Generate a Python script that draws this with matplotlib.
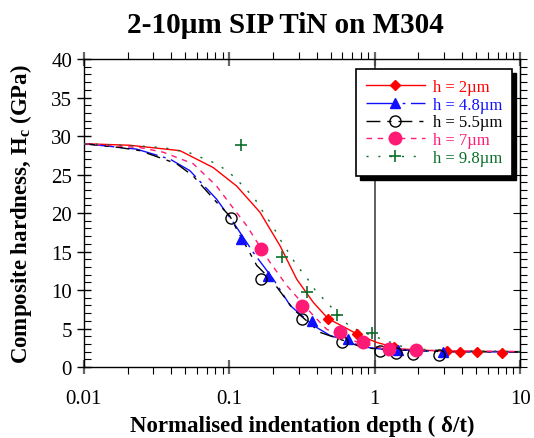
import matplotlib
matplotlib.use('Agg')
import matplotlib.pyplot as plt
from matplotlib.lines import Line2D
from matplotlib.patches import Rectangle
from matplotlib.ticker import MultipleLocator, LogLocator, NullFormatter, FixedLocator

plt.rcParams['font.family'] = ['Liberation Serif', 'DejaVu Serif']
plt.rcParams['mathtext.fontset'] = 'custom'
plt.rcParams['mathtext.rm'] = 'Liberation Serif'
plt.rcParams['mathtext.bf'] = 'Liberation Serif:bold'

# model curves
red_cx = [0.01, 0.0207, 0.0458, 0.0776, 0.1124, 0.1626, 0.2233, 0.291, 0.378, 0.477, 0.79, 1.03, 1.5, 3.0, 10]
red_cy = [29.0, 28.8, 28.1, 25.9, 23.5, 20.1, 15.75, 11.4, 8.4, 6.3, 4.1, 3.2, 2.35, 2.05, 2.0]
blue_cx = [0.01, 0.023, 0.0391, 0.0536, 0.0818, 0.1065, 0.146, 0.201, 0.262, 0.378, 0.493, 0.643, 0.836, 1.148, 3.0, 10]
blue_cy = [29.0, 28.3, 27.0, 25.5, 21.8, 18.8, 14.9, 11.4, 8.0, 5.4, 4.1, 3.4, 2.6, 2.3, 2.0, 1.95]
black_cx = [0.01, 0.0177, 0.0243, 0.0435, 0.0565, 0.0818, 0.101, 0.1124, 0.1544, 0.201, 0.2758, 0.421, 0.643, 0.836, 1.148, 3.0, 10]
black_cy = [29.0, 28.5, 28.1, 26.4, 24.8, 21.4, 19.6, 17.9, 13.2, 11.0, 7.5, 4.5, 3.3, 2.5, 2.3, 2.0, 1.95]
pink_cx = [0.01, 0.0243, 0.0351, 0.0565, 0.0818, 0.101, 0.1318, 0.1905, 0.248, 0.378, 0.468, 0.714, 1.148, 3.0, 10]
pink_cy = [29.0, 28.5, 27.9, 26.4, 23.5, 21.2, 18.35, 13.6, 10.6, 6.7, 4.9, 3.4, 2.4, 2.1, 2.0]
green_cx = [0.01, 0.0243, 0.0351, 0.0536, 0.0818, 0.101, 0.1247, 0.1503, 0.1714, 0.199, 0.2233, 0.291, 0.341, 0.389, 0.468, 0.677, 0.836, 1.576, 2.4, 10]
green_cy = [29.0, 28.7, 28.5, 27.8, 26.4, 25.2, 23.5, 21.8, 20.1, 18.3, 16.6, 13.2, 11.6, 10.0, 8.4, 5.2, 4.5, 2.6, 2.2, 2.0]

# measured points
red_x = [0.477, 0.757, 1.36, 3.13, 3.83, 5.09, 7.49]
red_y = [6.3, 4.3, 2.6, 2.04, 1.95, 1.9, 1.77]
blue_x = [0.1203, 0.1833, 0.368, 0.659, 1.456, 2.97]
blue_y = [16.6, 11.8, 6.0, 3.6, 2.2, 1.9]
black_x = [0.1022, 0.1644, 0.318, 0.594, 1.084, 1.397, 1.846, 2.79]
black_y = [19.4, 11.4, 6.3, 3.3, 2.1, 1.8, 1.65, 1.5]
pink_x = [0.1644, 0.316, 0.578, 0.836, 1.262, 1.918]
pink_y = [15.3, 7.9, 4.5, 3.3, 2.4, 2.2]
green_x = [0.1203, 0.2294, 0.3435, 0.548, 0.955]
green_y = [28.8, 14.3, 9.8, 6.7, 4.4]

labels = ['h = 2\u00b5m', 'h = 4.8\u00b5m', 'h = 5.5\u00b5m', 'h = 7\u00b5m', 'h = 9.8\u00b5m']
colors = ['#ff0000', '#1010ff', '#000000', '#ff1a75', '#0a6e2a']

series = [
    (red_cx, red_cy, red_x, red_y, dict(linestyle='-'), dict(marker='D', ms=5, mfc=colors[0])),
    (blue_cx, blue_cy, blue_x, blue_y, dict(dashes=(22, 4, 2, 4)), dict(marker='^', ms=7, mfc=colors[1])),
    (black_cx, black_cy, black_x, black_y, dict(dashes=(10, 5, 3, 5)), dict(marker='o', ms=8, mfc='none')),
    (pink_cx, pink_cy, pink_x, pink_y, dict(dashes=(4, 4)), dict(marker='o', ms=9, mfc=colors[3])),
    (green_cx, green_cy, green_x, green_y, dict(dashes=(1.5, 7)), dict(marker='+', ms=8, mew=1.2)),
]

fig = plt.figure(figsize=(5.34, 4.39), dpi=100)
ax = fig.add_axes([0.157, 0.1617, 0.817, 0.7016])

handles = []
for (cx, cy, px, py, ls, mk), col, lab in zip(series, colors, labels):
    ax.plot(cx, cy, color=col, lw=1.0, **ls, zorder=3)
    ax.plot(px, py, linestyle='none', color=col, mec=col, zorder=4, **mk)
    handles.append(Line2D([0], [0], color=col, lw=1.0, **ls, **mk))

ax.axvline(1, color='#444444', lw=1.2, zorder=2)

ax.set_xscale('log')
ax.set_xlim(0.01, 10)
ax.set_ylim(0, 40)
ax.yaxis.set_major_locator(MultipleLocator(5))
ax.yaxis.set_minor_locator(MultipleLocator(1))
ax.xaxis.set_major_locator(FixedLocator([0.01, 0.1, 1, 10]))
ax.xaxis.set_minor_locator(LogLocator(base=10, subs=range(2, 10)))
ax.xaxis.set_minor_formatter(NullFormatter())
ax.set_xticklabels(['0.01', '0.1', '1', '10'])

ax.tick_params(axis='both', which='major', direction='inout', length=10, width=1, labelsize=15)
ax.tick_params(axis='x', which='major', color='#666666', width=1.6, pad=11)
ax.tick_params(axis='x', which='minor', direction='out', length=5, width=0.8)
ax.tick_params(axis='y', which='minor', direction='in', length=5, width=0.8)
ax.tick_params(axis='x', which='both', top=True)

sec = ax.secondary_yaxis('right')
sec.yaxis.set_major_locator(MultipleLocator(5))
sec.yaxis.set_minor_locator(MultipleLocator(1))
sec.tick_params(which='major', direction='inout', length=10, labelright=False)
sec.tick_params(which='minor', direction='out', length=5, width=0.8)

for sp in ax.spines.values():
    sp.set_linewidth(1.0)

ax.set_xlabel('Normalised indentation depth ( \u03b4/t)', fontsize=16.5, fontweight='bold', labelpad=5)
ax.set_ylabel(r'Composite hardness, H$_{\mathbf{c}}$ (GPa)', fontsize=16.5, fontweight='bold', labelpad=12)
fig.text(0.535, 0.943, '2-10\u00b5m SIP TiN on M304', ha='center', va='center', fontsize=21, fontweight='bold')

leg = ax.legend(handles, labels, loc='upper right', bbox_to_anchor=(0.982, 0.9675), fontsize=12,
                handlelength=3.5, handletextpad=0.5, labelspacing=0.1, borderpad=0.6, borderaxespad=0,
                fancybox=False, framealpha=1, edgecolor='black', labelcolor=colors)
leg.get_frame().set_linewidth(1.2)
leg.set_zorder(6)

fig.canvas.draw()
bb = leg.get_window_extent().transformed(fig.transFigure.inverted())
shadow = Rectangle((bb.x0 + 4 / 534, bb.y0 - 4 / 439), bb.width, bb.height, transform=fig.transFigure,
                   facecolor='black', edgecolor='black', zorder=5)
ax.add_artist(shadow)
shadow.set_clip_on(False)

fig.savefig('out.png', dpi=100)
